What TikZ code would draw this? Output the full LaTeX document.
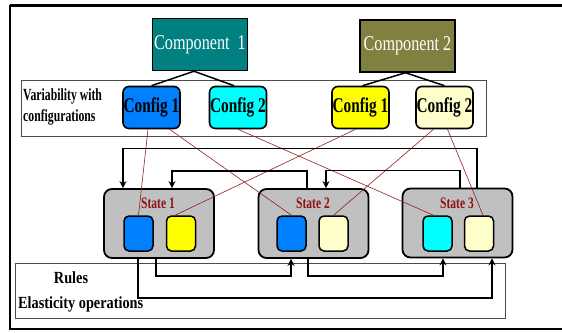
\documentclass[tikz,border=0pt]{standalone}
\usepackage{fontspec}
\setmainfont{Liberation Serif}
\newfontfamily\timesfont{Liberation Serif}
\usetikzlibrary{arrows.meta}
\definecolor{compteal}{RGB}{0,128,128}
\definecolor{compolive}{RGB}{128,128,64}
\definecolor{cfgblue}{RGB}{0,128,255}
\definecolor{cfgcyan}{RGB}{0,255,255}
\definecolor{cfgyellow}{RGB}{255,255,0}
\definecolor{cfgcream}{RGB}{255,255,204}
\definecolor{stategray}{RGB}{192,192,192}
\definecolor{linkred}{RGB}{150,30,30}
\definecolor{labelred}{RGB}{140,20,20}
\newcommand{\nrw}[2][0.78]{\scalebox{#1}[1]{#2}}

\begin{document}
\begin{tikzpicture}[x=1pt, y=-1pt,
    compbox/.style={draw=black, line width=1.5pt, minimum width=95pt, minimum height=52pt,
        inner sep=0pt, text=white, font=\timesfont\fontsize{21}{23}\selectfont},
    cfgbox/.style={draw=black, line width=1.6pt, rounded corners=6pt, minimum width=57pt,
        minimum height=42pt, inner sep=0pt, font=\timesfont\bfseries\fontsize{21}{23}\selectfont},
    statebox/.style={draw=black, fill=stategray, line width=1.8pt, rounded corners=8pt,
        minimum width=110pt, minimum height=69pt},
    innerbox/.style={draw=black, line width=1.5pt, rounded corners=5pt, minimum width=29pt,
        minimum height=35pt},
    statelbl/.style={text=labelred, font=\timesfont\bfseries\fontsize{16}{18}\selectfont},
    plaintxt/.style={font=\timesfont\bfseries\fontsize{17}{21}\selectfont, inner sep=0pt},
    frame/.style={draw=black!70, line width=0.8pt},
    compline/.style={draw=black, line width=1.5pt},
    link/.style={draw=linkred, line width=0.6pt},
    flow/.style={draw=black, line width=1.6pt, -{Stealth[length=7pt,width=7pt]}}]
    \useasboundingbox (0,0) rectangle (562,332);
    % outer frame
    \draw[line width=3pt] (10,5) -- (562,5);
    \draw[line width=1.2pt] (10,5) -- (10,329) -- (562,329);
    % grouping frames
    \draw[frame] (21,80) rectangle (486,136);
    \draw[frame] (15,263) rectangle (505,318);
    \node[plaintxt, align=left, anchor=west] (vartext) at (23,107)
        {\nrw[0.69]{Variability with}\\\nrw[0.69]{configurations}};
    \node[plaintxt] (rules) at (71,278) {\nrw[0.84]{Rules}};
    \node[plaintxt, anchor=west] (elast) at (18,304) {\nrw[0.84]{Elasticity operations}};
    % components and configurations
    \node[compbox, fill=compteal] (comp1) at (200,44.5) {\nrw[0.77]{Component\ \ 1}};
    \node[compbox, fill=compolive] (comp2) at (407.5,46) {\nrw[0.77]{Component 2}};
    \node[cfgbox, fill=cfgblue] (cfgA1) at (151.5,107.5) {\nrw[0.73]{Config 1}};
    \node[cfgbox, fill=cfgcyan] (cfgA2) at (238,107.5) {\nrw[0.73]{Config 2}};
    \node[cfgbox, fill=cfgyellow] (cfgB1) at (360.5,107.5) {\nrw[0.73]{Config 1}};
    \node[cfgbox, fill=cfgcream] (cfgB2) at (444.5,107.5) {\nrw[0.73]{Config 2}};
    \draw[compline] ([xshift=-6pt]comp1.south) -- (cfgA1.north);
    \draw[compline] ([xshift=-6pt]comp1.south) -- ([xshift=-4pt]cfgA2.north);
    \draw[compline] ([xshift=-2pt]comp2.south) -- ([xshift=2pt]cfgB1.north);
    \draw[compline] ([xshift=-2pt]comp2.south) -- (cfgB2.north);
    % states
    \node[statebox] (st1) at (159,223.5) {};
    \node[statebox] (st2) at (313.5,223.5) {};
    \node[statebox] (st3) at (457.5,223) {};
    \node[statelbl] (lbl1) at (158,203) {\nrw[0.72]{State 1}};
    \node[statelbl] (lbl2) at (313,203) {\nrw[0.72]{State 2}};
    \node[statelbl] (lbl3) at (457,203) {\nrw[0.72]{State 3}};
    \node[innerbox, fill=cfgblue] (s1a) at (138.5,233.5) {};
    \node[innerbox, fill=cfgyellow] (s1b) at (181,233.5) {};
    \node[innerbox, fill=cfgblue] (s2a) at (291.5,233.5) {};
    \node[innerbox, fill=cfgcream] (s2b) at (333.5,233.5) {};
    \node[innerbox, fill=cfgcyan] (s3a) at (437.5,233.5) {};
    \node[innerbox, fill=cfgcream] (s3b) at (479,233.5) {};
    % configuration to state links
    \draw[link] ([xshift=-3.5pt]cfgA1.south) -- (s1a.north);
    \draw[link] ([xshift=18pt]cfgA1.south) -- (s2a.north);
    \draw[link] (cfgA2.south) -- ([xshift=-4pt]s3a.north);
    \draw[link] ([xshift=-5pt]cfgB1.south) -- ([xshift=-6pt]s1b.north);
    \draw[link] ([xshift=-11pt]cfgB2.south) -- (s2b.north);
    \draw[link] ([xshift=3pt]cfgB2.south) -- ([xshift=4pt]s3b.north);
    % elasticity transitions
    \draw[flow] ([xshift=19.5pt]st3.north) -- ++(0,-39) -| ([xshift=-36pt]st1.north);
    \draw[flow] ([xshift=-6.5pt]st2.north) -- ++(0,-17) -| ([xshift=13pt]st1.north);
    \draw[flow] ([xshift=2.5pt]st3.north) -- ++(0,-17) -| ([xshift=12.5pt]st2.north);
    \draw[flow] ([xshift=-3pt]st1.south) -- ++(0,17) -| ([xshift=-22.5pt]st2.south);
    \draw[flow] ([xshift=-21pt]st1.south) -- ++(0,39) -| ([xshift=34.5pt]st3.south);
    \draw[flow] ([xshift=-5.5pt]st2.south) -- ++(0,17) -| ([xshift=-14.5pt]st3.south);
\end{tikzpicture}
\end{document}
